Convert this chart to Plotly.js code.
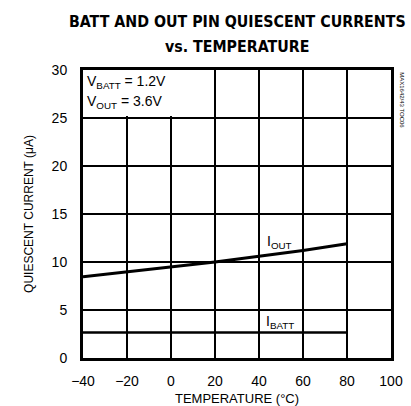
<!DOCTYPE html>
<html><head><meta charset="utf-8">
<script src="https://cdn.plot.ly/plotly-3.0.1.min.js"></script>
<style>body{margin:0;background:#fff}#c{width:411px;height:406px}</style>
</head><body><div id="c"></div>
<script>
const temps = [-40, -20, 0, 20, 40, 60, 80];
const iOut = [8.45, 8.95, 9.45, 10.0, 10.6, 11.2, 11.9];
const iBatt = [2.65, 2.65, 2.65, 2.65, 2.65, 2.65, 2.65];
const xTicks = [-40, -20, 0, 20, 40, 60, 80, 100];
const yTicks = [0, 5, 10, 15, 20, 25, 30];

const F = '"Liberation Sans", Arial, sans-serif';
const TF = '"DejaVu Sans Condensed", "DejaVu Sans", sans-serif';
const traces = [
  {x: temps, y: iOut, mode: 'lines', line: {color: '#000', width: 3}, hoverinfo: 'skip'},
  {x: temps, y: iBatt, mode: 'lines', line: {color: '#000', width: 2.5}, hoverinfo: 'skip'}
];
const layout = {
  width: 411, height: 406,
  margin: {l: 83, r: 20, t: 70, b: 48},
  showlegend: false,
  paper_bgcolor: '#fff', plot_bgcolor: '#fff',
  font: {family: F, color: '#000', size: 13},
  xaxis: {range: [-40, 100], tickvals: xTicks, ticks: '', showgrid: true, gridcolor: '#000', gridwidth: 1.8,
    zeroline: false, showline: true, linecolor: '#000', linewidth: 3, mirror: true,
    tickfont: {size: 14, family: F}, fixedrange: true, ticklabelstandoff: 8,
    title: {text: 'TEMPERATURE (°C)', font: {size: 13, family: F}, standoff: 25}},
  yaxis: {range: [0, 30], tickvals: yTicks, ticks: '', showgrid: true, gridcolor: '#000', gridwidth: 1.8,
    zeroline: false, showline: true, linecolor: '#000', linewidth: 3, mirror: true,
    tickfont: {size: 14, family: F}, fixedrange: true, ticklabelstandoff: 10,
    title: {text: 'QUIESCENT CURRENT (μA)', font: {size: 12, family: F}, standoff: 16}},
  shapes: [
    {type: 'rect', xref: 'x', yref: 'y', x0: -40, x1: 19, y0: 25.2, y1: 30, layer: 'between',
     fillcolor: '#fff', line: {width: 0}}
  ],
  annotations: [
    {x: 0.5, y: 1.168, xref: 'paper', yref: 'paper', xanchor: 'center', yanchor: 'middle', showarrow: false,
     text: '<b>BATT AND OUT PIN QUIESCENT CURRENTS</b>', font: {size: 15.8, family: TF}},
    {x: 0.5, y: 1.08, xref: 'paper', yref: 'paper', xanchor: 'center', yanchor: 'middle', showarrow: false,
     text: '<b>vs. TEMPERATURE</b>', font: {size: 15.8, family: TF}},
    {x: -39, y: 28.7, xref: 'x', yref: 'y', xanchor: 'left', yanchor: 'middle', showarrow: false,
     text: 'V<sub>BATT</sub> = 1.2V', font: {size: 14, family: F}},
    {x: -39, y: 26.7, xref: 'x', yref: 'y', xanchor: 'left', yanchor: 'middle', showarrow: false,
     text: 'V<sub>OUT</sub> = 3.6V', font: {size: 14, family: F}},
    {x: 49.5, y: 12.1, xref: 'x', yref: 'y', xanchor: 'center', yanchor: 'middle', showarrow: false,
     text: 'I<sub>OUT</sub>', font: {size: 14, family: F}},
    {x: 49.5, y: 3.7, xref: 'x', yref: 'y', xanchor: 'center', yanchor: 'middle', showarrow: false,
     text: 'I<sub>BATT</sub>', font: {size: 14, family: F}},
    {x: 1.035, y: 1.0, xref: 'paper', yref: 'paper', xanchor: 'center', yanchor: 'top', showarrow: false,
     text: 'MAX1642/43 TOC06', textangle: 90, font: {size: 6, family: F}}
  ]
};
Plotly.newPlot('c', traces, layout, {staticPlot: true, displayModeBar: false});
</script></body></html>
